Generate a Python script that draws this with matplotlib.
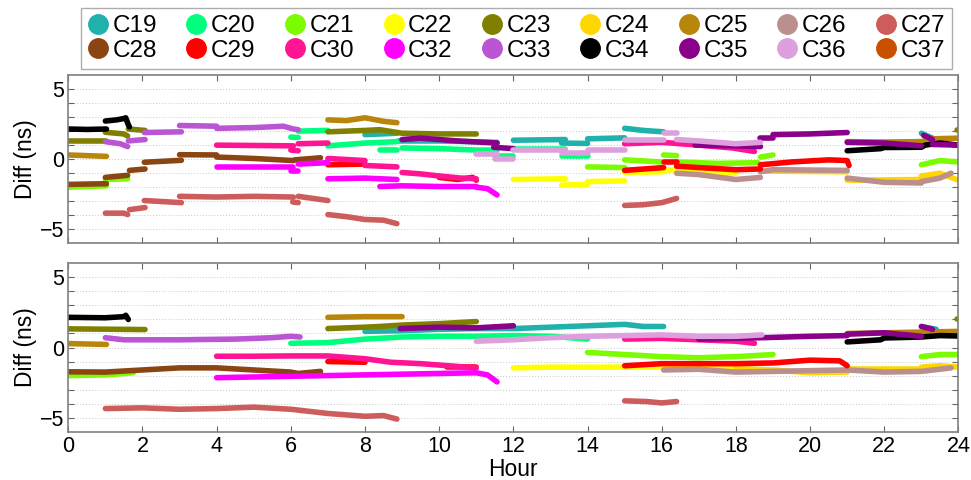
import matplotlib
matplotlib.use('Agg')
import matplotlib.pyplot as plt
from matplotlib.lines import Line2D

plt.rcParams['font.family'] = ['Liberation Sans', 'DejaVu Sans']

prns = ['C19', 'C20', 'C21', 'C22', 'C23', 'C24', 'C25', 'C26', 'C27',
        'C28', 'C29', 'C30', 'C32', 'C33', 'C34', 'C35', 'C36', 'C37']
colors = ['#20b2aa', '#00ff7f', '#7cfc00', '#ffff00', '#808000', '#ffd700',
          '#b8860b', '#bc8f8f', '#cd5c5c', '#8b4513', '#ff0000', '#ff1493',
          '#ff00ff', '#ba55d3', '#000000', '#8b008b', '#dda0dd', '#c85000']

# clock differences per satellite, upper panel: segments of (hour, ns)
c19_top = [[(8.0, 1.75), (8.86, 1.85)],
           [(8.9, 1.3), (10.0, 1.3), (11.56, 1.2)],
           [(12.0, 1.35), (13.4, 1.4)],
           [(13.3, 1.15), (14.0, 1.12)],
           [(14.0, 1.45), (15.0, 1.52)],
           [(15.0, 2.2), (15.5, 2.05), (16.05, 1.95)],
           [(23.0, 1.85), (23.3, 1.5)]]
c20_top = [[(6.0, 1.57), (6.2, 1.55)],
           [(6.2, 2.0), (7.0, 2.05)],
           [(7.0, 0.95), (8.0, 1.15), (8.86, 1.25)],
           [(8.4, 0.67), (8.86, 0.67)],
           [(9.0, 0.8), (10.0, 0.75), (11.0, 0.65), (11.56, 0.65)],
           [(11.5, 0.2), (12.0, 0.2)],
           [(12.0, 0.75), (13.4, 0.75)],
           [(13.3, 0.2), (14.0, 0.2)]]
c21_top = [[(0.0, -2.0), (1.03, -1.9)],
           [(1.0, -1.45), (1.6, -1.4)],
           [(14.0, -0.55), (15.0, -0.6)],
           [(15.0, -0.05), (16.0, -0.2)],
           [(16.05, 0.3), (16.4, 0.25)],
           [(16.4, -0.2), (17.5, -0.3), (18.6, -0.25)],
           [(18.66, 0.15), (19.0, 0.3)],
           [(23.0, -0.4), (23.5, -0.1), (24.0, -0.2)]]
c22_top = [[(12.0, -1.45), (13.4, -1.4)],
           [(13.3, -1.85), (14.0, -1.8)],
           [(14.0, -1.6), (15.0, -1.55)],
           [(15.0, -0.95), (16.05, -0.9)],
           [(16.05, -0.75), (16.4, -0.75)],
           [(16.4, -0.95), (18.0, -1.0)]]
c23_top = [[(0.0, 1.3), (1.03, 1.3)],
           [(1.0, 1.92), (1.5, 1.8), (1.6, 1.65)],
           [(1.62, 2.15), (2.07, 2.05)],
           [(7.0, 1.95), (8.0, 2.05), (8.4, 2.1), (9.0, 1.85), (10.0, 1.8), (11.0, 1.8)],
           [(23.95, 2.1), (24.0, 2.1)]]
c24_top = [[(18.8, -0.85), (21.0, -0.9)],
           [(21.0, -1.5), (23.0, -1.45)],
           [(23.0, -1.2), (23.5, -1.0), (24.0, -1.5)]]
c25_top = [[(0.0, 0.3), (1.03, 0.2)],
           [(7.0, 2.8), (7.5, 2.75), (8.0, 2.95), (8.5, 2.7), (8.86, 2.6)],
           [(21.0, 1.25), (22.0, 1.22), (23.0, 1.25), (23.3, 1.45), (24.0, 1.5)]]
c26_top = [[(16.4, -1.0), (17.0, -1.1), (18.0, -1.45), (18.66, -1.3)],
           [(18.66, -0.9), (19.0, -0.75), (21.0, -0.8)],
           [(21.0, -1.35), (22.0, -1.65), (23.0, -1.7)],
           [(23.0, -1.6), (23.5, -1.35), (23.8, -1.0)]]
c27_top = [[(1.0, -3.85), (1.5, -3.85), (1.6, -3.95)],
           [(1.65, -3.6), (2.07, -3.45)],
           [(2.05, -2.95), (3.05, -3.1)],
           [(3.0, -2.65), (4.0, -2.7), (5.0, -2.65), (6.07, -2.7)],
           [(6.05, -3.05), (6.2, -3.1)],
           [(6.2, -2.65), (7.0, -2.95)],
           [(7.0, -3.95), (7.5, -4.1), (8.0, -4.3), (8.5, -4.35), (8.86, -4.6)],
           [(15.0, -3.3), (15.5, -3.25), (16.0, -3.1), (16.4, -2.8)]]
c28_top = [[(0.0, -1.8), (1.03, -1.75)],
           [(1.0, -1.3), (1.6, -1.15)],
           [(1.65, -0.8), (2.07, -0.7)],
           [(2.05, -0.22), (3.05, -0.08)],
           [(3.0, 0.32), (4.0, 0.3)],
           [(4.0, 0.15), (5.0, 0.05), (6.07, -0.1)],
           [(6.1, -0.05), (6.8, 0.1)]]
c29_top = [[(7.0, -0.4), (8.0, -0.35)],
           [(10.0, -1.3), (10.5, -1.45), (10.9, -1.3), (11.0, -1.5)],
           [(15.0, -0.8), (16.05, -0.6)],
           [(16.05, -0.17), (16.4, -0.17)],
           [(16.4, -0.5), (17.0, -0.6), (18.0, -0.75), (18.66, -0.7)],
           [(18.66, -0.4), (19.5, -0.2), (20.5, -0.05), (21.0, -0.1), (21.05, -0.45)]]
c30_top = [[(4.0, 1.0), (6.07, 0.95)],
           [(6.0, 0.65), (6.2, 0.6)],
           [(6.2, 1.1), (7.0, 1.15)],
           [(7.0, 0.05), (8.0, -0.1)],
           [(8.0, -0.45), (8.86, -0.55)],
           [(9.0, -0.95), (9.5, -1.05), (10.0, -1.2), (10.6, -1.35), (11.0, -1.4)],
           [(15.0, 1.1), (16.0, 1.2), (17.0, 1.0), (17.9, 0.8), (18.5, 0.55)]]
c32_top = [[(4.0, -0.55), (6.07, -0.55)],
           [(6.0, -0.81), (6.2, -0.81)],
           [(6.2, -0.35), (7.0, -0.25)],
           [(7.0, -1.4), (8.0, -1.35), (8.86, -1.45)],
           [(8.4, -1.95), (9.0, -1.9), (10.0, -1.95), (11.0, -1.95)],
           [(11.0, -2.0), (11.3, -2.1), (11.56, -2.55)]]
c33_top = [[(1.0, 1.25), (1.4, 1.1), (1.6, 0.9)],
           [(1.62, 1.3), (2.07, 1.4)],
           [(2.05, 1.9), (3.05, 1.95)],
           [(3.0, 2.4), (4.0, 2.35)],
           [(4.0, 2.2), (5.0, 2.25), (5.8, 2.35), (6.07, 2.15), (6.2, 2.1)]]
c34_top = [[(0.0, 2.15), (0.5, 2.12), (1.03, 2.15)],
           [(1.0, 2.72), (1.3, 2.8), (1.5, 2.9), (1.55, 2.95), (1.62, 2.45), (1.65, 2.3)],
           [(21.0, 0.6), (21.9, 0.75), (22.0, 0.83), (23.0, 0.85), (23.1, 1.0), (23.5, 1.15), (24.0, 1.0)]]
c35_top = [[(9.0, 1.4), (9.5, 1.5), (10.5, 1.3), (11.56, 1.15)],
           [(11.47, 0.85), (12.0, 0.75)],
           [(16.9, 1.0), (18.0, 0.95), (18.66, 0.9)],
           [(18.66, 1.5), (19.0, 1.5)],
           [(19.0, 1.75), (20.0, 1.8), (21.0, 1.9)],
           [(21.0, 1.2), (22.0, 1.15), (23.0, 0.95)],
           [(23.06, 1.7), (23.3, 1.4)],
           [(23.3, 1.05), (24.0, 1.0)]]
c36_top = [[(11.0, 0.38), (11.56, 0.38)],
           [(11.5, 0.0), (12.0, 0.0)],
           [(12.0, 0.62), (13.4, 0.62)],
           [(13.3, 0.43), (14.0, 0.43)],
           [(14.0, 0.67), (15.0, 0.67)],
           [(15.0, 1.38), (16.05, 1.38)],
           [(16.05, 1.86), (16.4, 1.86)],
           [(16.4, 1.4), (17.0, 1.3), (18.0, 1.1), (18.66, 1.2)]]
c37_top = []

# lower panel
c19_bot = [[(8.0, 1.15), (9.0, 1.2), (10.0, 1.3), (11.0, 1.35), (12.0, 1.35), (13.0, 1.45),
            (14.0, 1.55), (15.0, 1.65), (15.5, 1.5), (16.05, 1.5)],
           [(23.0, 1.5), (23.4, 1.3)]]
c20_bot = [[(6.0, 0.3), (7.0, 0.35), (8.0, 0.6), (9.0, 0.75), (10.0, 0.8), (11.0, 0.8),
            (12.0, 0.85), (13.0, 0.8), (14.0, 0.6)]]
c21_bot = [[(0.0, -2.0), (1.0, -1.95), (1.75, -1.8)],
           [(14.0, -0.35), (15.0, -0.5), (16.0, -0.65), (17.0, -0.73), (18.0, -0.65), (19.0, -0.5)],
           [(23.0, -0.65), (23.5, -0.5), (24.0, -0.5)]]
c22_bot = [[(12.0, -1.45), (13.0, -1.4), (14.0, -1.4), (15.0, -1.4), (16.0, -1.4),
            (17.0, -1.45), (18.0, -1.45)]]
c23_bot = [[(0.0, 1.33), (2.07, 1.28)],
           [(7.0, 1.35), (8.0, 1.45), (8.4, 1.5), (9.0, 1.6), (10.0, 1.7), (11.0, 1.85)],
           [(23.95, 2.05), (24.0, 2.05)]]
c24_bot = [[(18.0, -1.5), (19.0, -1.6), (20.0, -1.8), (21.0, -1.75)],
           [(21.0, -1.55), (23.0, -1.55)],
           [(23.0, -1.4), (23.5, -1.3), (24.0, -1.4)]]
c25_bot = [[(0.0, 0.28), (1.03, 0.22)],
           [(7.0, 2.15), (8.0, 2.2), (9.0, 2.2)],
           [(21.0, 1.0), (22.0, 1.05), (23.0, 1.1), (24.0, 1.15)]]
c26_bot = [[(16.05, -1.6), (17.0, -1.55), (18.0, -1.75), (19.0, -1.7), (20.0, -1.65),
            (21.0, -1.6), (22.0, -1.75), (23.0, -1.7), (23.8, -1.45)]]
c27_bot = [[(1.0, -4.35), (2.0, -4.3), (3.0, -4.4), (4.0, -4.35), (5.0, -4.25), (6.0, -4.4),
            (7.0, -4.7), (8.0, -4.9), (8.5, -4.85), (8.86, -5.1)],
           [(15.0, -3.8), (15.6, -3.85), (16.0, -3.95), (16.4, -3.85)]]
c28_bot = [[(0.0, -1.73), (1.0, -1.75), (2.0, -1.6), (3.0, -1.45), (4.0, -1.45), (5.0, -1.6),
            (6.0, -1.75), (6.2, -1.85), (6.8, -1.7)]]
c29_bot = [[(7.0, -1.0), (8.0, -1.05)],
           [(10.2, -1.4), (11.0, -1.4)],
           [(15.0, -1.3), (16.0, -1.15), (17.0, -1.15), (18.0, -1.15), (19.0, -1.1),
            (20.0, -0.9), (20.8, -0.95), (21.0, -1.3)]]
c30_bot = [[(4.0, -0.62), (5.0, -0.62), (6.0, -0.6), (7.0, -0.6), (8.0, -0.8), (8.7, -1.05),
            (9.5, -1.15), (10.5, -1.35), (11.0, -1.45)],
           [(15.0, 0.6), (16.0, 0.65), (17.0, 0.55), (18.0, 0.45), (18.5, 0.3)]]
c32_bot = [[(4.0, -2.15), (5.0, -2.1), (6.0, -2.05), (7.0, -2.0), (8.0, -1.95), (9.0, -1.9),
            (10.0, -1.85), (11.0, -1.8), (11.3, -1.95), (11.56, -2.45)]]
c33_bot = [[(1.0, 0.7), (1.5, 0.55), (3.0, 0.55), (4.5, 0.6), (5.5, 0.7), (6.0, 0.8), (6.25, 0.75)]]
c34_bot = [[(0.0, 2.15), (1.0, 2.12), (1.5, 2.2), (1.55, 2.3), (1.62, 2.0)],
           [(21.0, 0.4), (21.9, 0.55), (22.0, 0.68), (23.0, 0.75), (23.5, 0.85), (24.0, 0.82)]]
c35_bot = [[(8.95, 1.35), (10.0, 1.45), (11.0, 1.4), (12.0, 1.55)],
           [(17.0, 0.6), (18.7, 0.7), (20.0, 0.8), (21.0, 0.85)],
           [(21.0, 0.95), (22.0, 1.05), (23.0, 0.8)],
           [(23.0, 1.5), (23.3, 1.3)]]
c36_bot = [[(11.0, 0.45), (12.0, 0.55), (13.0, 0.7), (14.0, 0.8), (15.0, 0.85), (16.0, 0.9),
            (17.0, 0.8), (18.0, 0.8), (18.7, 0.9)]]
c37_bot = []

top_sets = [c19_top, c20_top, c21_top, c22_top, c23_top, c24_top, c25_top, c26_top, c27_top,
            c28_top, c29_top, c30_top, c32_top, c33_top, c34_top, c35_top, c36_top, c37_top]
bot_sets = [c19_bot, c20_bot, c21_bot, c22_bot, c23_bot, c24_bot, c25_bot, c26_bot, c27_bot,
            c28_bot, c29_bot, c30_bot, c32_bot, c33_bot, c34_bot, c35_bot, c36_bot, c37_bot]

fig = plt.figure(figsize=(9.71, 4.8), dpi=100)
ax1 = fig.add_axes([0.0703, 0.4931, 0.9168, 0.3506])
ax2 = fig.add_axes([0.0703, 0.1006, 0.9168, 0.3508])

yt = list(range(-5, 6))
ylabels = [str(t).replace('-', '\u2212') if t % 5 == 0 else '' for t in yt]

for ax, sets in ((ax1, top_sets), (ax2, bot_sets)):
    for segs, c in zip(sets, colors):
        for seg in segs:
            h = [p[0] for p in seg]
            v = [p[1] for p in seg]
            ax.plot(h, v, color=c, lw=4.0, solid_capstyle='round', solid_joinstyle='round')
    ax.set_xlim(0, 24)
    ax.set_ylim(-6, 6)
    ax.set_xticks(range(0, 25, 2))
    ax.set_yticks(yt)
    ax.set_yticklabels(ylabels)
    ax.yaxis.grid(True, ls=(0, (1, 2)), color='#c8c8c8', lw=0.7)
    ax.set_axisbelow(True)
    ax.tick_params(direction='in', top=True, right=True, length=4, width=0.8,
                   color='#666666', labelsize=15.5, pad=3)
    for s in ax.spines.values():
        s.set_color('#808080')
        s.set_linewidth(1.2)
    ax.set_ylabel('Diff (ns)', fontsize=16.5, labelpad=2)

ax1.set_xticklabels([])
ax2.set_xlabel('Hour', fontsize=16.5, labelpad=1)

# legend fills column by column, so interleave the two rows
ncol = 9
order = [i for j in range(ncol) for i in (j, j + ncol)]
handles = [Line2D([], [], ls='', marker='o', ms=14, mfc=colors[i], mec=colors[i]) for i in order]
labels = [prns[i] for i in order]
leg = fig.legend(handles, labels, ncol=ncol, loc='upper center', bbox_to_anchor=(0.532, 0.983),
                 fontsize=17.5, frameon=True, fancybox=False, edgecolor='#999999',
                 handlelength=0.8, handletextpad=0.2, columnspacing=1.22, labelspacing=0.1,
                 borderpad=0.3, borderaxespad=0)
leg.get_frame().set_linewidth(1.0)

fig.savefig('out.png', dpi=100)
